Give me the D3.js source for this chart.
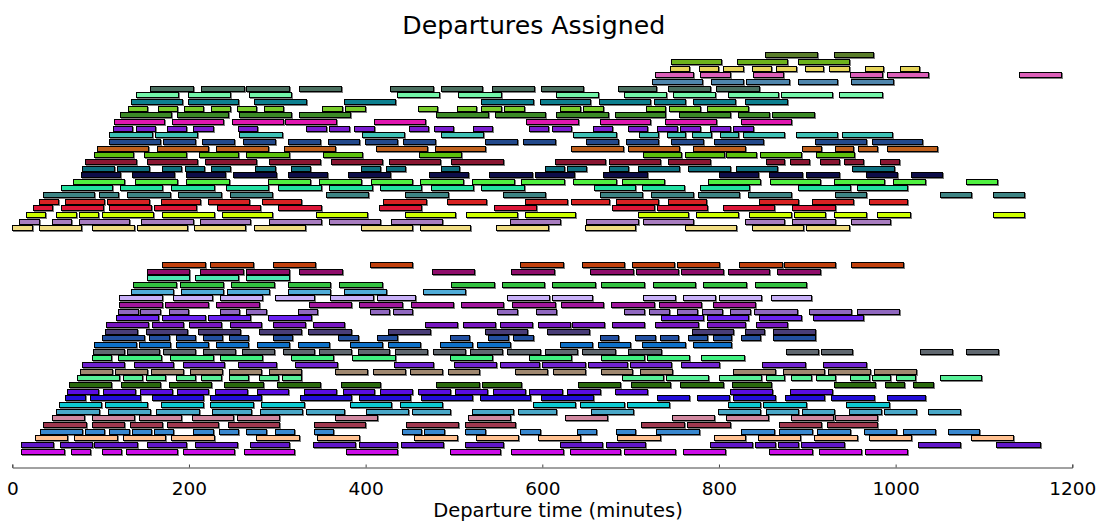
<!DOCTYPE html>
<html>
<head>
<meta charset="utf-8">
<script src="https://cdn.jsdelivr.net/npm/d3@7"></script>
<style>
  body { margin: 0; background: #fff; }
  svg { display: block; font-family: "DejaVu Sans", sans-serif; }
</style>
</head>
<body>
<svg id="chart" width="1099" height="524"></svg>
<script>
// Departure blocks, one row per vehicle; each trip is [start, end] in minutes.
const chartTitle = "Departures Assigned";
const xLabel = "Departure time (minutes)";
const xTicks = [0, 200, 400, 600, 800, 1000, 1200];

// Upper fleet block (top row first)
const upperColors = [
  "#5a7d2a", "#6cb21e", "#e6d55a", "#dc5fb8", "#4f86ad", "#4c7060", "#72f5a8",
  "#0d8090", "#78cc2c", "#3a8a28", "#e018b0", "#7a1ad0", "#3cc0b4", "#204a8c",
  "#c0601c", "#5cc010", "#8a1830", "#0c7080", "#10104a", "#50f040", "#20e0a0",
  "#3c8484", "#d82020", "#dc1438", "#ccff00", "#a87cc0", "#f0dc82"
];
const upperTrips = [
  [[852,911],[930,974]],
  [[746,802],[820,877],[890,947]],
  [[745,766],[777,799],[805,827],[837,859],[865,887],[897,918],[925,947],[965,986],[1005,1026]],
  [[728,771],[778,813],[838,873],[948,984],[990,1037],[1140,1187]],
  [[724,781],[791,827],[831,879],[890,934],[950,997]],
  [[156,204],[214,262],[265,313],[324,372],[428,476],[485,532],[543,591],[599,646],[686,729],[742,790],[797,845]],
  [[140,188],[199,247],[268,316],[435,483],[505,553],[615,663],[693,740],[748,796],[810,867],[870,928],[936,985]],
  [[134,192],[199,256],[274,332],[376,433],[531,589],[597,654],[664,722],[727,762],[771,818],[830,877]],
  [[131,153],[165,187],[194,216],[225,247],[254,276],[285,307],[351,373],[377,399],[459,481],[503,525],[531,553],[557,579],[620,643],[646,669],[717,739],[743,779],[786,833]],
  [[122,180],[187,244],[257,315],[325,382],[480,538],[546,603],[616,674],[682,739],[755,813],[822,857],[860,908]],
  [[115,172],[181,239],[249,306],[309,367],[410,467],[582,640],[665,722],[739,797],[825,882]],
  [[114,136],[140,162],[175,197],[205,227],[255,277],[333,355],[359,381],[387,409],[449,471],[477,499],[521,543],[585,607],[611,633],[657,679],[697,719],[730,752],[756,779],[790,812],[816,839]],
  [[110,158],[161,209],[257,305],[396,443],[485,533],[635,683],[709,731],[741,762],[769,791],[801,822],[827,874],[887,934],[939,996]],
  [[109,167],[171,207],[215,251],[261,297],[312,348],[357,393],[399,435],[442,478],[535,571],[578,614],[650,686],[695,731],[746,782],[794,850],[909,967],[973,1030]],
  [[96,154],[164,221],[231,289],[308,365],[412,470],[478,535],[633,691],[697,755],[771,830],[894,916],[931,952],[957,979],[990,1047]],
  [[93,137],[149,197],[211,255],[265,313],[352,396],[460,508],[714,757],[762,806],[808,842],[846,893],[910,953]],
  [[82,140],[152,209],[218,276],[291,348],[361,419],[427,484],[497,555],[614,671],[676,733],[742,790],[853,874],[880,902],[914,936],[941,963],[982,1004]],
  [[79,115],[119,155],[169,191],[195,217],[225,247],[275,297],[315,337],[395,416],[423,445],[485,506],[603,625],[628,650],[675,697],[708,755],[765,813],[819,866],[951,998]],
  [[78,122],[135,183],[197,241],[250,298],[312,356],[380,428],[472,516],[540,588],[592,636],[669,718],[800,844],[857,894],[899,936],[966,1001],[1017,1053]],
  [[69,127],[139,187],[197,245],[289,337],[347,395],[406,453],[462,510],[520,568],[576,624],[635,683],[690,738],[788,846],[858,914],[930,987],[997,1033],[1080,1115]],
  [[55,113],[122,170],[180,228],[242,290],[301,349],[359,407],[416,463],[474,522],[531,579],[658,705],[713,760],[778,834],[890,948],[956,1013]],
  [[35,93],[98,120],[130,178],[188,236],[246,294],[355,403],[445,493],[555,603],[665,713],[723,771],[776,823],[833,881],[931,967],[1050,1085],[1110,1145]],
  [[30,52],[60,104],[107,155],[168,212],[221,268],[283,327],[420,468],[492,536],[580,628],[632,676],[684,731],[742,785],[845,889],[905,952],[970,1013]],
  [[23,45],[55,103],[109,157],[160,208],[232,280],[301,349],[415,463],[545,593],[679,727],[730,787],[804,862],[883,931]],
  [[15,37],[50,72],[75,97],[102,159],[170,228],[237,294],[344,402],[444,501],[514,571],[580,637],[708,765],[774,822],[834,882],[885,920],[930,966],[979,1016],[1110,1145]],
  [[8,30],[45,67],[75,132],[146,204],[212,269],[291,349],[359,416],[429,487],[563,620],[650,708],[714,771],[830,874],[883,931],[950,994]],
  [[0,22],[30,78],[90,138],[141,198],[206,264],[274,331],[395,453],[461,518],[548,606],[648,705],[762,819],[837,895],[899,947]]
];

// Lower fleet block (top row first)
const lowerColors = [
  "#c0400c", "#900c6c", "#50e8b4", "#30c040", "#50acd8", "#c8b0f8", "#a0149c",
  "#9068c0", "#6a20f0", "#7818c0", "#483c78", "#2050a0", "#1070c8", "#606870",
  "#40f080", "#7020d0", "#a08870", "#58f098", "#2a6a10", "#5a10e0", "#2010d8",
  "#10c8d0", "#48a8c8", "#d088a0", "#a03850", "#3888d0", "#ffc090", "#6018c8",
  "#cc10e8"
];
const lowerTrips = [
  [[170,218],[224,272],[295,343],[405,453],[575,623],[645,693],[701,749],[752,800],[823,871],[874,931],[950,1008]],
  [[152,200],[213,261],[265,313],[325,373],[475,523],[565,613],[654,703],[706,754],[757,805],[810,857],[866,914]],
  [[152,200],[207,255],[265,313]],
  [[137,185],[190,238],[248,296],[312,360],[370,418],[497,545],[554,602],[611,660],[666,715],[725,773],[782,831],[841,899]],
  [[134,182],[191,239],[243,291],[312,360],[375,423],[465,513]],
  [[121,169],[182,226],[235,283],[297,341],[360,408],[413,456],[560,608],[611,656],[714,750],[759,795],[800,848],[859,904]],
  [[121,169],[173,221],[231,279],[336,384],[393,441],[451,499],[508,556],[566,614],[621,669],[678,726],[732,780],[793,841]],
  [[120,142],[145,167],[177,199],[235,257],[265,287],[323,345],[405,427],[431,453],[549,571],[593,615],[693,715],[721,743],[753,775],[781,803],[813,835],[840,888],[902,950],[956,1004]],
  [[117,165],[170,218],[221,269],[290,338],[734,782],[786,833],[845,893],[906,963]],
  [[106,154],[158,193],[200,236],[246,282],[295,331],[340,376],[467,503],[510,546],[552,588],[595,631],[634,670],[679,715],[728,776],[786,830],[842,877]],
  [[105,141],[151,198],[210,258],[279,327],[335,383],[425,473],[535,583],[605,653],[769,816],[829,851],[861,909]],
  [[101,149],[155,177],[185,207],[216,237],[245,267],[295,317],[369,391],[413,435],[495,517],[539,561],[567,589],[665,686],[705,728],[733,754],[765,787],[793,814],[825,847],[861,909]],
  [[92,140],[143,179],[185,221],[231,267],[277,313],[323,359],[382,418],[425,461],[484,520],[526,563],[620,656],[663,699],[713,761],[771,814]],
  [[91,127],[130,166],[171,207],[216,252],[260,296],[306,342],[347,383],[391,427],[433,469],[476,512],[518,554],[560,597],[603,639],[645,682],[697,734],[876,912],[916,951],[1028,1064],[1080,1116]],
  [[90,112],[120,168],[179,227],[235,283],[315,363],[385,433],[495,543],[585,633],[666,715],[718,766],[780,828]],
  [[79,127],[138,182],[193,240],[255,299],[320,368],[432,476],[500,548],[552,596],[600,648],[652,696],[699,746],[757,800],[849,897],[918,966]],
  [[77,113],[116,152],[157,193],[201,237],[245,281],[291,327],[365,401],[408,444],[450,486],[493,528],[569,605],[612,648],[666,702],[711,747],[816,864],[872,919],[923,971],[975,1023]],
  [[73,121],[125,147],[151,173],[185,207],[214,236],[245,267],[279,301],[305,327],[690,737],[740,788],[800,848],[853,874],[882,904],[910,931],[948,970],[973,994],[1000,1022],[1050,1097]],
  [[64,112],[123,167],[177,225],[240,284],[300,348],[372,416],[480,528],[532,576],[640,688],[700,744],[756,804],[815,859],[930,977],[988,1010],[1020,1042]],
  [[62,97],[103,139],[145,181],[186,222],[230,266],[277,312],[330,366],[374,410],[416,452],[459,495],[501,537],[544,580],[585,622],[628,665],[682,718],[812,860],[880,928]],
  [[60,82],[88,145],[158,216],[224,281],[326,384],[393,450],[463,520],[529,586],[599,657],[730,766],[775,811],[816,864],[875,919],[927,975],[990,1033]],
  [[53,100],[105,153],[168,216],[224,272],[282,330],[382,429],[439,487],[589,637],[643,692],[696,743],[810,846],[850,899],[944,992]],
  [[50,98],[108,156],[163,211],[226,270],[280,328],[332,376],[400,448],[452,496],[520,567],[572,616],[655,703],[799,847],[853,889],[894,930],[947,983],[987,1023],[1037,1073]],
  [[45,81],[90,138],[143,191],[203,250],[254,302],[365,413],[516,563],[626,673],[747,794],[808,856],[881,929],[931,979]],
  [[35,83],[90,126],[133,169],[175,233],[244,302],[342,399],[446,504],[512,569],[712,760],[764,812],[868,916],[922,979]],
  [[31,79],[82,104],[110,132],[135,157],[160,182],[205,227],[234,256],[265,287],[297,319],[341,363],[441,463],[466,489],[513,535],[575,597],[639,661],[683,705],[729,777],[825,862],[868,905],[911,948],[964,1000],[1008,1044],[1059,1094]],
  [[26,62],[70,118],[125,173],[180,228],[276,324],[345,393],[455,503],[525,573],[595,643],[685,733],[794,830],[844,892],[908,956],[970,1017],[1085,1133]],
  [[10,46],[54,90],[93,141],[153,197],[207,254],[269,313],[340,388],[392,436],[440,488],[512,556],[620,668],[672,716],[790,837],[841,863],[867,889],[893,942],[1025,1073],[1114,1163]],
  [[10,58],[66,88],[101,123],[129,186],[193,251],[262,319],[378,436],[495,552],[565,623],[631,688],[692,750],[759,807],[857,905],[913,961],[965,1013]]
];

// Row slots: the lower block starts a few slots below the upper one
const lowerBlockStart = 31.5;
const lastSlot = lowerBlockStart + lowerTrips.length - 1;

const svg = d3.select("#chart");
const x = d3.scaleLinear().domain([0, 1200]).range([12.3, 1072.3]);
const y = d3.scaleLinear().domain([0, lastSlot]).range([55.3, 451.5]);
const barOuter = 6; // bar height including its outline

const rows = upperTrips.map((trips, i) => ({ slot: i, color: upperColors[i], trips }))
  .concat(lowerTrips.map((trips, j) => ({ slot: lowerBlockStart + j, color: lowerColors[j], trips })));

// soft drop shadow under each bar
const defs = svg.append("defs");
const f = defs.append("filter").attr("id", "barShadow")
  .attr("x", "-5%").attr("y", "-20%").attr("width", "110%").attr("height", "140%");
f.append("feDropShadow").attr("dx", 1).attr("dy", 1)
  .attr("stdDeviation", 0.6).attr("flood-color", "#000").attr("flood-opacity", 0.5);

const bars = svg.append("g").attr("filter", "url(#barShadow)");
rows.forEach(r => {
  const top = Math.round(y(r.slot) - barOuter / 2) + 0.5;
  bars.append("g").selectAll("rect")
    .data(r.trips)
    .join("rect")
    .attr("x", d => Math.round(x(d[0])) + 0.5)
    .attr("y", top)
    .attr("width", d => Math.round(x(d[1])) - Math.round(x(d[0])))
    .attr("height", barOuter - 1)
    .attr("fill", r.color)
    .attr("stroke", "#000")
    .attr("stroke-width", 1);
});

// x axis with inward ticks
const axisY = 467.5;
const axis = d3.axisBottom(x).tickValues(xTicks).tickFormat(d3.format("d"))
  .tickSizeInner(-3).tickSizeOuter(-3);
const ax = svg.append("g").attr("transform", `translate(0,${axisY})`).call(axis);
ax.select(".domain").attr("stroke", "#444").attr("stroke-width", 1);
ax.selectAll(".tick line").attr("stroke", "#444");
ax.selectAll(".tick text")
  .attr("dy", null).attr("y", 27)
  .attr("font-family", "DejaVu Sans, sans-serif")
  .attr("font-size", 18.5)
  .attr("fill", "#000");

svg.append("text")
  .attr("x", 558).attr("y", 516.5)
  .attr("text-anchor", "middle")
  .attr("font-size", 19.5)
  .attr("fill", "#000")
  .text(xLabel);

svg.append("text")
  .attr("x", 533.8).attr("y", 34)
  .attr("text-anchor", "middle")
  .attr("font-size", 25.2)
  .attr("fill", "#000")
  .text(chartTitle);
</script>
</body>
</html>
